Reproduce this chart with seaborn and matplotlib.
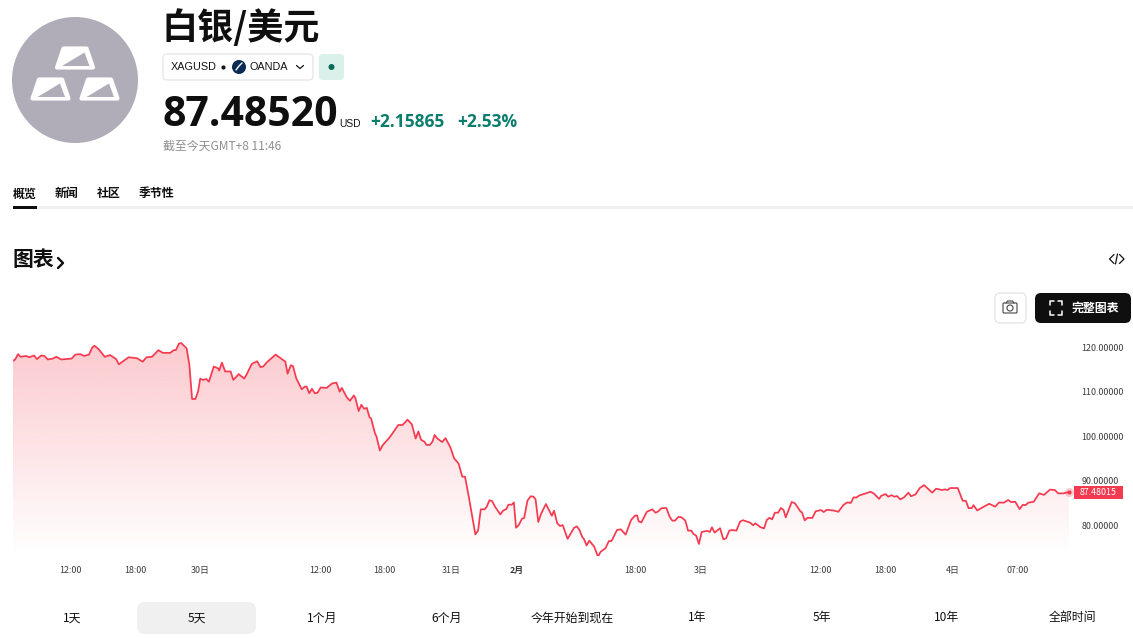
import numpy as np
import pandas as pd
import matplotlib
matplotlib.use('Agg')
import matplotlib.pyplot as plt
import seaborn as sns
from matplotlib.patches import Circle, FancyBboxPatch, Polygon, Rectangle

# trading hours since the left edge of the chart, and the price there
hours = [0, .2, .46, .7, 1.2, 1.5, 1.94, 2.2, 2.6, 2.9, 3.2, 3.66, 4.0, 4.45, 5.4, 5.75, 6.2, 6.55, 7.0, 7.3,
         7.5, 7.9, 8.45, 8.95, 9.5, 9.75, 10.65, 11.4, 11.95, 12.3, 12.8, 13.4, 13.8, 14.5, 14.8, 15.0, 15.3, 15.5, 16, 16.25,
         16.5, 16.8, 17.05, 17.25, 17.5, 17.8, 18.05, 18.5, 18.9, 19, 19.25, 19.55, 20.05, 20.3, 20.8, 21.3, 21.5, 22, 22.5, 22.8,
         23.05, 23.4, 24.2, 25.1, 25.3, 25.6, 25.8, 26.1, 26.6, 26.9, 27.05, 27.3, 27.55, 27.8, 28.05, 28.35, 28.9, 29.4, 29.8, 30.1,
         30.3, 30.75, 31.05, 31.4, 31.55, 31.85, 32.1, 32.35, 32.6, 32.85, 33, 33.35, 33.5, 33.8,
         34.07, 34.75, 35.5, 35.9, 36.35, 36.75, 37.1, 37.35, 37.6, 37.9, 38.1, 38.4, 38.65, 38.85, 39.1, 39.55, 39.85, 40.3, 40.65, 41.05,
         41.4, 41.65, 42.05, 42.35, 42.6, 42.85, 43.1, 43.45, 43.65, 43.9, 44.15, 44.45, 44.9, 45.15, 45.45, 45.65, 45.95, 46.15, 46.35, 46.6,
         46.9, 47.1, 47.4, 47.7, 47.95, 48.15, 48.4, 48.65, 49.1, 49.65, 49.85, 50.15, 50.4, 50.65, 51.1, 51.7, 51.95, 52.2, 52.45, 52.6,
         52.85, 53.1, 53.55, 53.9, 54.15, 54.6, 54.9, 55.15, 55.65, 56, 56.45, 56.95, 57.3, 57.5, 57.65, 57.9, 58.4, 58.9, 59.2, 59.4,
         59.75, 60.2, 60.5, 60.75, 61, 61.3, 61.6, 61.95, 62.2, 62.5, 62.7, 62.95, 63.2, 63.45, 63.95, 64.2, 64.4, 64.65, 65.15, 65.45,
         65.7, 66, 66.25, 66.65, 67, 67.25, 67.93,
         68.2, 68.4, 68.85, 69.2, 69.45, 69.7, 69.95, 70.2, 70.5, 70.75, 71, 71.2, 71.75, 72.05, 72.55, 72.7, 72.95, 73.2, 73.65, 73.95,
         74.45, 74.7, 75, 75.6, 76.05, 76.5, 76.85, 77.2, 77.45, 77.7, 78, 78.4, 79, 79.3, 79.8, 80, 80.4, 80.65, 80.95, 81.2,
         81.45, 81.75, 82.1, 82.5, 82.75, 83.15, 83.55, 83.95, 84.3, 84.7, 85.05, 85.6, 85.85, 86.1, 86.35, 87.05, 87.5, 87.8, 88.05, 88.35,
         88.5, 88.85, 89.45, 89.95, 90.5, 90.85, 91.3, 91.7, 91.95, 92.35, 92.75, 93.05, 93.3, 93.55, 94.05, 94.55, 95, 95.55, 96, 96.3,
         96.8, 97.3]
prices = [117.0, 117.3, 118.5, 117.9, 118.1, 117.8, 118.2, 117.4, 118.2, 118.1, 117.3, 117.5, 117.9, 117.3, 117.5, 118.4, 118.5, 118.1, 118.4, 120.0,
          120.4, 119.6, 117.9, 118.3, 117.4, 116.2, 117.8, 117.6, 116.8, 117.8, 117.9, 119.4, 118.8, 118.8, 119.4, 119.4, 120.9, 121.0, 119.8, 116.1,
          108.4, 108.4, 110.05, 113.0, 112.7, 112.9, 112.3, 115.7, 115.3, 114.8, 116.6, 114.6, 114.6, 112.7, 114.0, 113.0, 113.8, 116.3, 116.9, 115.6,
          115.7, 116.7, 118.4, 116.8, 114.1, 116.0, 115.8, 113.05, 110.6, 111.2, 111.2, 109.7, 110.7, 109.7, 109.8, 111.0, 110.9, 111.9, 112.1, 110.05,
          110.9, 108.8, 108.0, 109.2, 108.6, 105.7, 107.1, 106.2, 106.4, 104.3, 104.0, 100.7, 99.9, 96.8,
          98.0, 99.9, 102.55, 102.55, 103.75, 102.7, 99.5, 101.1, 99.2, 98.8, 98.05, 98.05, 98.8, 100.3, 99.5, 98.7, 99.6, 97.5, 95.0, 93.9,
          90.9, 90.9, 85.65, 81.5, 77.9, 78.75, 83.55, 83.55, 84.15, 85.6, 85.4, 84.0, 82.4, 83.25, 83.6, 84.6, 84.6, 85.1, 79.4, 80.0,
          81.45, 81.6, 85.5, 86.5, 86.4, 85.8, 80.7, 82.5, 84.75, 82.1, 83.25, 80.4, 79.8, 80.0, 76.9, 79.4, 79.7, 78.9, 77.3, 76.9,
          75.4, 76.5, 75.15, 72.9, 74.0, 74.8, 76.4, 76.4, 78.9, 79.05, 77.85, 81.15, 82.1, 82.2, 80.85, 80.6, 83.0, 83.55, 82.8, 83.0,
          83.8, 83.85, 81.9, 81.0, 81.0, 81.85, 81.75, 81.0, 78.75, 78.75, 78.0, 77.6, 75.75, 78.45, 78.7, 78.45, 79.5, 78.3, 79.3, 76.8,
          77.0, 78.75, 78.9, 78.75, 80.8, 81.1, 80.55,
          79.95, 80.4, 79.55, 79.25, 81.15, 81.65, 81.3, 82.8, 82.8, 83.85, 83.4, 81.75, 85.2, 84.9, 83.1, 82.85, 81.05, 81.65, 81.6, 83.1,
          83.4, 82.95, 83.45, 83.3, 83.0, 84.5, 85.1, 85.0, 86.25, 86.2, 86.7, 87.0, 87.5, 87.15, 85.9, 86.6, 87.0, 86.4, 86.75, 86.4,
          86.55, 85.8, 86.25, 87.3, 86.5, 86.9, 88.35, 89.0, 88.2, 87.3, 88.2, 87.9, 88.05, 87.9, 88.35, 88.35, 85.5, 85.45, 83.8, 83.85,
          84.5, 83.3, 84.15, 84.8, 84.15, 85.1, 85.05, 85.65, 85.2, 85.25, 83.6, 84.6, 84.5, 85.05, 85.25, 87.15, 86.8, 88.0, 87.9, 87.15,
          87.15, 87.48]

x_ticks = [5.25, 11.25, 17.25, 28.35, 34.25, 40.4, 46.45, 57.35, 63.4, 74.4, 80.4, 86.55, 92.6]
x_labels = ['12:00', '18:00', '30日', '12:00', '18:00', '31日', '2月', '18:00', '3日', '12:00', '18:00', '4日', '07:00']
y_ticks = [80, 90, 100, 110, 120]
y_labels = ['80.00000', '90.00000', '100.00000', '110.00000', '120.00000']
ranges = ['1天', '5天', '1个月', '6个月', '今年开始到现在', '1年', '5年', '10年', '全部时间']
tabs = ['概览', '新闻', '社区', '季节性']

W, H = 1133, 638
RED = '#f7394f'
TEAL = '#0b7d6c'
CJK = ['Noto Sans CJK SC', 'DejaVu Sans']

sns.set_theme(style='white')
plt.rcParams['font.family'] = CJK

fig = plt.figure(figsize=(W / 100, H / 100), dpi=100, facecolor='white')

# page furniture is laid out in pixels on a full-figure axes
page = fig.add_axes([0, 0, 1, 1], zorder=0)
page.set_xlim(0, W)
page.set_ylim(H, 0)
page.axis('off')


def box(x0, y0, x1, y1, r, fc, ec='none', lw=1):
    page.add_patch(FancyBboxPatch((x0 + r, y0 + r), x1 - x0 - 2 * r, y1 - y0 - 2 * r,
                                  boxstyle='round,pad=%f' % r, fc=fc, ec=ec, lw=lw))


# round symbol with the three ingots
page.add_patch(Circle((75, 80), 63, fc='#b0adb9', ec='none'))
for dx, dy in [(0, 0), (-24.5, 31), (24.5, 31)]:
    page.add_patch(Polygon([(57 + dx, 67.5 + dy), (63.5 + dx, 48.5 + dy), (86.5 + dx, 48.5 + dy), (93 + dx, 67.5 + dy)],
                           fc='white', ec='white', lw=3, joinstyle='round'))
    page.add_patch(Polygon([(62 + dx, 66 + dy), (89.5 + dx, 66 + dy), (84.5 + dx, 52.5 + dy)],
                           fc='#b0adb9', ec='none'))

# header
page.text(162, 28, '白银/美元', fontsize=26, fontweight='bold', color='#0f0f0f', va='center')
box(163, 54, 313, 80, 4, 'white', '#e8e8e8')
page.text(171, 67, 'XAGUSD', fontsize=7.8, color='#131313', va='center', family='Liberation Sans')
page.plot([223], [67], marker='o', ms=2, color='#131313')
page.add_patch(Circle((239, 67), 7, fc='#0b2a55', ec='none'))
page.plot([236, 239, 242], [70, 66, 63], color='white', lw=1)
page.text(249, 67, 'OANDA', fontsize=7.8, color='#131313', va='center', family='Liberation Sans')
page.plot([296.5, 300, 303.5], [65.5, 68.5, 65.5], color='#131313', lw=0.9)
box(319, 54, 344, 80, 4, '#daf0eb')
page.add_patch(Circle((331.5, 67), 3, fc='#0a6b5b', ec='none'))
page.text(162, 116, '87.48520', fontsize=29.5, fontweight='bold', color='#0f0f0f', va='center', family='Open Sans')
page.text(339, 124, 'USD', fontsize=7.4, color='#131313', va='center', family='Liberation Sans')
page.text(370, 122, '+2.15865', fontsize=12.5, color=TEAL, va='center', family='Open Sans', fontweight='bold')
page.text(457, 122, '+2.53%', fontsize=12.5, color=TEAL, va='center', family='Open Sans', fontweight='bold')
page.text(163, 146, '截至今天GMT+8 11:46', fontsize=8.6, color='#8f8f8f', va='center')

# tabs
for label, x in zip(tabs, [13, 55, 97, 139]):
    page.text(x, 194, label, fontsize=8.6, fontweight='bold', color='#0f0f0f', va='center')
page.add_patch(Rectangle((13, 206), 1120, 3, fc='#f0f0f0', ec='none'))
page.add_patch(Rectangle((13, 206), 24, 3, fc='#0f0f0f', ec='none'))

# section heading and chart buttons
page.text(13, 259, '图表', fontsize=15, fontweight='bold', color='#0f0f0f', va='center')
page.plot([58, 63, 58], [258, 263, 268], color='#0f0f0f', lw=1.7)
page.plot([1114, 1109.5, 1114], [254.5, 259, 263.5], color='#131313', lw=0.9)
page.plot([1115.5, 1117.5], [264, 254], color='#131313', lw=0.9)
page.plot([1119.5, 1124, 1119.5], [254.5, 259, 263.5], color='#131313', lw=0.9)
box(995, 293, 1026, 323, 5, 'white', '#e6e6e6')
page.add_patch(FancyBboxPatch((1004, 304), 12, 8, boxstyle='round,pad=1', fc='none', ec='#444444', lw=0.8))
page.plot([1006, 1007.5, 1012.5, 1014], [303, 301, 301, 303], color='#444444', lw=0.8)
page.add_patch(Circle((1010, 308), 3, fc='none', ec='#444444', lw=0.8))
box(1035, 293, 1131, 323, 6, '#0f0f0f')
for x, y, sx, sy in [(1050, 301, 1, 1), (1062, 301, -1, 1), (1050, 315, 1, -1), (1062, 315, -1, -1)]:
    page.plot([x + 4 * sx, x, x], [y, y, y + 4 * sy], color='white', lw=1.1)
page.text(1095, 308, '完整图表', fontsize=8.6, fontweight='bold', color='white', va='center', ha='center')

# range selector
box(137, 602, 256, 634, 8, '#f0f0f0')
for label, x in zip(ranges, [72, 197, 322, 447, 572, 697, 822, 947, 1072]):
    page.text(x, 618, label, fontsize=8.6, color='#0f0f0f', va='center', ha='center')

# price chart
ax = fig.add_axes([13 / W, 1 - 556 / H, 1056 / W, 226 / H], zorder=1)
ax.patch.set_alpha(0)
df = pd.DataFrame({'hours': hours, 'price': prices})
sns.lineplot(data=df, x='hours', y='price', ax=ax, color=RED, lw=1.25, errorbar=None, zorder=3)
ax.lines[0].set_solid_joinstyle('round')

area = ax.fill_between(df['hours'], df['price'], 73.04, color='none')
grad = np.zeros((256, 1, 4))
grad[..., :3] = matplotlib.colors.to_rgb('#f23645')
grad[:, 0, 3] = np.linspace(0.27, 0, 256)
im = ax.imshow(grad, extent=[0, 97.3, 73.04, 121.5], origin='upper', aspect='auto', zorder=1)
im.set_clip_path(area.get_paths()[0], transform=ax.transData)

ax.set_xlim(0, 97.3)
ax.set_ylim(73.04, 123.94)
ax.set_xlabel('')
ax.set_ylabel('')
sns.despine(ax=ax, left=True, bottom=True, top=True, right=True)
ax.set_xticks(x_ticks)
ax.set_xticklabels(x_labels, fontsize=6.4, color='#3c3c3c')
ax.get_xticklabels()[6].set_fontweight('bold')
ax.yaxis.tick_right()
ax.set_yticks(y_ticks)
ax.set_yticklabels(y_labels, fontsize=6.4, color='#3c3c3c')
ax.tick_params(axis='x', length=0, pad=7)
ax.tick_params(axis='y', length=0, pad=9)

# last price marker and tag
ax.plot([hours[-1]], [prices[-1]], marker='o', ms=6.5, color=RED, alpha=0.25, mec='none', clip_on=False)
ax.plot([hours[-1]], [prices[-1]], marker='o', ms=3, color=RED, mec='none', clip_on=False)
page.add_patch(Rectangle((1074, 486), 49, 13, fc='#f23a50', ec='none'))
page.text(1098.5, 492.5, '87.48015', fontsize=6.4, color='white', va='center', ha='center', zorder=5)
page.set_zorder(2)
page.patch.set_alpha(0)

fig.savefig('out.png', dpi=100)
